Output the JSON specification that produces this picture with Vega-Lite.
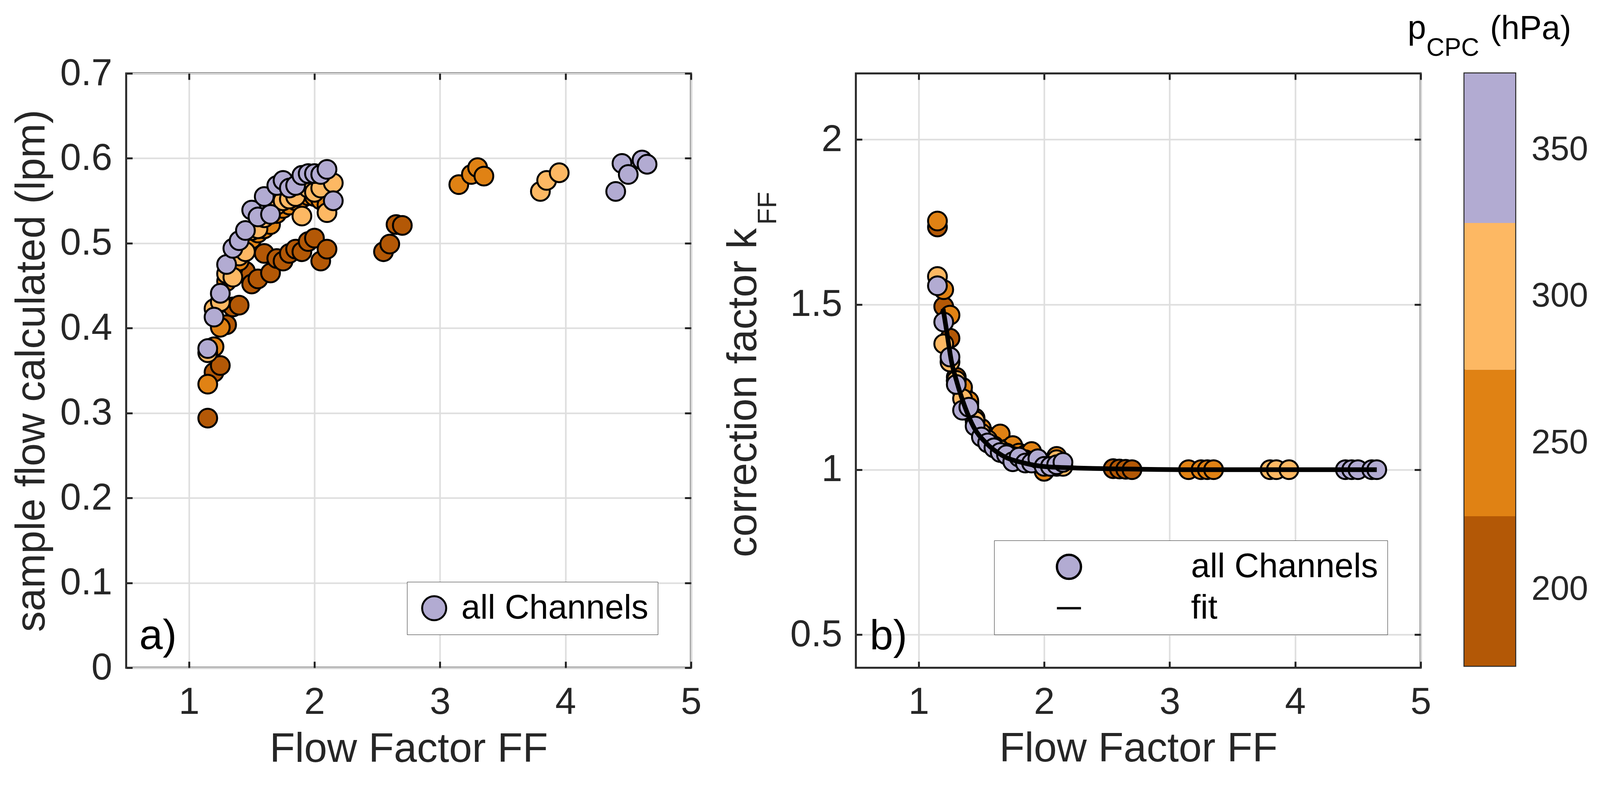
{
  "$schema": "https://vega.github.io/schema/vega-lite/v6.json",
  "background": "white",
  "autosize": {"type": "none"},
  "padding": {"left": 323, "top": 188, "right": 3760, "bottom": 1790},
  "config": {
    "font": "Liberation Sans",
    "view": {"stroke": "#262626", "strokeWidth": 5},
    "axis": {
      "domain": false,
      "labelFont": "Liberation Sans", "labelFontSize": 96, "labelColor": "#262626",
      "labelFlush": false, "labelOverlap": false, "labelLimit": 1000,
      "titleFont": "Liberation Sans", "titleFontSize": 106, "titleFontWeight": "normal",
      "titleColor": "#262626", "titleLimit": 3000,
      "gridColor": "#DEDEDE", "gridWidth": 4, "gridOpacity": 1,
      "tickColor": "#262626", "tickWidth": 5, "tickSize": -16
    },
    "legend": {"labelFont": "Liberation Sans", "labelFontSize": 87, "labelColor": "black", "labelLimit": 2000}
  },
  "datasets": {
    "pts": [
      {"p":200,"ff":1.15,"flow":0.294,"k":1.735},
      {"p":200,"ff":1.20,"flow":0.348,"k":1.494},
      {"p":200,"ff":1.25,"flow":0.356,"k":1.398},
      {"p":200,"ff":1.30,"flow":0.404,"k":1.28},
      {"p":200,"ff":1.35,"flow":0.425,"k":1.235},
      {"p":200,"ff":1.40,"flow":0.427,"k":1.20},
      {"p":200,"ff":1.45,"flow":0.467,"k":1.15},
      {"p":200,"ff":1.50,"flow":0.452,"k":1.12},
      {"p":200,"ff":1.55,"flow":0.458,"k":1.095},
      {"p":200,"ff":1.60,"flow":0.488,"k":1.075},
      {"p":200,"ff":1.65,"flow":0.465,"k":1.062},
      {"p":200,"ff":1.70,"flow":0.482,"k":1.05},
      {"p":200,"ff":1.75,"flow":0.479,"k":1.042},
      {"p":200,"ff":1.80,"flow":0.488,"k":1.035},
      {"p":200,"ff":1.85,"flow":0.493,"k":1.03},
      {"p":200,"ff":1.90,"flow":0.490,"k":1.025},
      {"p":200,"ff":1.95,"flow":0.502,"k":1.02},
      {"p":200,"ff":2.00,"flow":0.506,"k":1.012},
      {"p":200,"ff":2.05,"flow":0.479,"k":1.015},
      {"p":200,"ff":2.10,"flow":0.493,"k":1.01},
      {"p":200,"ff":2.55,"flow":0.490,"k":1.003},
      {"p":200,"ff":2.60,"flow":0.499,"k":1.002},
      {"p":200,"ff":2.65,"flow":0.522,"k":1.001},
      {"p":200,"ff":2.70,"flow":0.521,"k":1.0},
      {"p":250,"ff":1.15,"flow":0.334,"k":1.753},
      {"p":250,"ff":1.20,"flow":0.378,"k":1.545},
      {"p":250,"ff":1.25,"flow":0.401,"k":1.468},
      {"p":250,"ff":1.30,"flow":0.455,"k":1.269},
      {"p":250,"ff":1.35,"flow":0.470,"k":1.249},
      {"p":250,"ff":1.40,"flow":0.479,"k":1.208},
      {"p":250,"ff":1.45,"flow":0.500,"k":1.156},
      {"p":250,"ff":1.50,"flow":0.505,"k":1.125},
      {"p":250,"ff":1.55,"flow":0.512,"k":1.10},
      {"p":250,"ff":1.60,"flow":0.517,"k":1.088},
      {"p":250,"ff":1.65,"flow":0.522,"k":1.108},
      {"p":250,"ff":1.70,"flow":0.535,"k":1.062},
      {"p":250,"ff":1.75,"flow":0.541,"k":1.073},
      {"p":250,"ff":1.80,"flow":0.545,"k":1.05},
      {"p":250,"ff":1.85,"flow":0.550,"k":1.045},
      {"p":250,"ff":1.90,"flow":0.553,"k":1.055},
      {"p":250,"ff":1.95,"flow":0.556,"k":1.03},
      {"p":250,"ff":2.00,"flow":0.555,"k":0.995},
      {"p":250,"ff":2.05,"flow":0.551,"k":1.02},
      {"p":250,"ff":2.10,"flow":0.545,"k":1.04},
      {"p":250,"ff":3.15,"flow":0.569,"k":1.0},
      {"p":250,"ff":3.25,"flow":0.581,"k":1.0},
      {"p":250,"ff":3.30,"flow":0.589,"k":1.0},
      {"p":250,"ff":3.35,"flow":0.579,"k":1.0},
      {"p":300,"ff":1.15,"flow":0.371,"k":1.585},
      {"p":300,"ff":1.20,"flow":0.423,"k":1.381},
      {"p":300,"ff":1.25,"flow":0.431,"k":1.326},
      {"p":300,"ff":1.30,"flow":0.464,"k":1.27},
      {"p":300,"ff":1.35,"flow":0.460,"k":1.215},
      {"p":300,"ff":1.40,"flow":0.485,"k":1.178},
      {"p":300,"ff":1.45,"flow":0.490,"k":1.148},
      {"p":300,"ff":1.50,"flow":0.515,"k":1.11},
      {"p":300,"ff":1.55,"flow":0.517,"k":1.09},
      {"p":300,"ff":1.60,"flow":0.530,"k":1.072},
      {"p":300,"ff":1.65,"flow":0.535,"k":1.06},
      {"p":300,"ff":1.70,"flow":0.545,"k":1.05},
      {"p":300,"ff":1.75,"flow":0.550,"k":1.04},
      {"p":300,"ff":1.80,"flow":0.552,"k":1.035},
      {"p":300,"ff":1.85,"flow":0.555,"k":1.03},
      {"p":300,"ff":1.90,"flow":0.532,"k":1.025},
      {"p":300,"ff":1.95,"flow":0.565,"k":1.02},
      {"p":300,"ff":2.00,"flow":0.560,"k":1.015},
      {"p":300,"ff":2.05,"flow":0.565,"k":1.01},
      {"p":300,"ff":2.10,"flow":0.536,"k":1.03},
      {"p":300,"ff":2.15,"flow":0.571,"k":1.01},
      {"p":300,"ff":3.80,"flow":0.561,"k":1.0},
      {"p":300,"ff":3.85,"flow":0.574,"k":1.0},
      {"p":300,"ff":3.95,"flow":0.583,"k":1.0},
      {"p":350,"ff":1.15,"flow":0.376,"k":1.557},
      {"p":350,"ff":1.20,"flow":0.413,"k":1.447},
      {"p":350,"ff":1.25,"flow":0.441,"k":1.341},
      {"p":350,"ff":1.30,"flow":0.475,"k":1.258},
      {"p":350,"ff":1.35,"flow":0.494,"k":1.18},
      {"p":350,"ff":1.40,"flow":0.503,"k":1.189},
      {"p":350,"ff":1.45,"flow":0.515,"k":1.132},
      {"p":350,"ff":1.50,"flow":0.539,"k":1.099},
      {"p":350,"ff":1.55,"flow":0.531,"k":1.081},
      {"p":350,"ff":1.60,"flow":0.555,"k":1.066},
      {"p":350,"ff":1.65,"flow":0.534,"k":1.052},
      {"p":350,"ff":1.70,"flow":0.568,"k":1.045},
      {"p":350,"ff":1.75,"flow":0.574,"k":1.024},
      {"p":350,"ff":1.80,"flow":0.565,"k":1.038},
      {"p":350,"ff":1.85,"flow":0.568,"k":1.02},
      {"p":350,"ff":1.90,"flow":0.580,"k":1.02},
      {"p":350,"ff":1.95,"flow":0.582,"k":1.033},
      {"p":350,"ff":2.00,"flow":0.582,"k":1.01},
      {"p":350,"ff":2.05,"flow":0.581,"k":1.01},
      {"p":350,"ff":2.10,"flow":0.587,"k":1.015},
      {"p":350,"ff":2.15,"flow":0.550,"k":1.022},
      {"p":350,"ff":4.40,"flow":0.561,"k":1.0},
      {"p":350,"ff":4.45,"flow":0.594,"k":1.0},
      {"p":350,"ff":4.50,"flow":0.581,"k":1.0},
      {"p":350,"ff":4.61,"flow":0.598,"k":1.0},
      {"p":350,"ff":4.65,"flow":0.593,"k":1.0}
    ],
    "fit": [
      {"ff":1.195,"k":1.487},
      {"ff":1.225,"k":1.416},
      {"ff":1.26,"k":1.331},
      {"ff":1.305,"k":1.265},
      {"ff":1.37,"k":1.189},
      {"ff":1.44,"k":1.128},
      {"ff":1.54,"k":1.080},
      {"ff":1.67,"k":1.042},
      {"ff":1.83,"k":1.021},
      {"ff":2.01,"k":1.009},
      {"ff":2.26,"k":1.005},
      {"ff":2.63,"k":1.002},
      {"ff":3.08,"k":1.0},
      {"ff":3.8,"k":1.0},
      {"ff":4.65,"k":1.0}
    ],
    "cbar": [
      {"p":200,"lo":174,"hi":225},
      {"p":250,"lo":225,"hi":275},
      {"p":300,"lo":275,"hi":325},
      {"p":350,"lo":325,"hi":376}
    ]
  },
  "hconcat": [
    {
      "width": 1446, "height": 1522,
      "layer": [
        {
          "data": {"name": "pts"},
          "mark": {"type": "point", "filled": true, "opacity": 1, "stroke": "black", "strokeWidth": 5, "size": 2310},
          "encoding": {
            "x": {"field": "ff", "type": "quantitative", "scale": {"domain": [0.5, 5], "nice": false, "zero": false},
              "axis": {"orient": "bottom", "values": [1,2,3,4,5], "format": "d", "grid": true,
                "labelPadding": 133, "labelBaseline": "alphabetic",
                "title": "Flow Factor FF", "titleX": 723, "titleY": 240, "titleAlign": "center", "titleBaseline": "alphabetic", "titleAngle": 0}},
            "y": {"field": "flow", "type": "quantitative", "scale": {"domain": [0, 0.7], "nice": false, "zero": false},
              "axis": {"orient": "left", "values": [0,0.1,0.2,0.3,0.4,0.5,0.6,0.7], "grid": true,
                "labelExpr": "datum.value == 0 ? '0' : format(datum.value, '.1f')", "labelPadding": 52,
                "title": "sample flow calculated (lpm)", "titleX": -210, "titleY": 761, "titleAngle": 270, "titleAlign": "center", "titleBaseline": "alphabetic"}},
            "color": {"field": "p", "type": "ordinal", "scale": {"domain": [200,250,300,350], "range": ["#B35806","#E08214","#FDB863","#B2ABD2"]}, "legend": null},
            "shape": {"datum": "all Channels", "type": "nominal", "scale": {"domain": ["all Channels"], "range": ["circle"]},
              "legend": {"title": null, "orient": "bottom-right", "offset": 85, "padding": 24,
                "strokeColor": "#262626", "fillColor": "white",
                "labelFontSize": 87, "labelColor": "black", "labelOffset": 26, "symbolOffset": 2,
                "symbolSize": 3795, "symbolFillColor": "#B2ABD2", "symbolStrokeColor": "black", "symbolStrokeWidth": 5, "symbolOpacity": 1}}
          }
        },
        {
          "data": {"name": "pts"},
          "mark": {"type": "point", "opacity": 0},
          "encoding": {
            "x": {"field": "ff", "type": "quantitative", "scale": {"domain": [0.5, 5], "nice": false, "zero": false},
              "axis": {"orient": "top", "values": [1,2,3,4,5], "labels": false, "grid": false,
                "title": "a)", "titleX": 33, "titleY": 1473, "titleAlign": "left", "titleBaseline": "alphabetic", "titleAngle": 0, "titleFontSize": 108, "titleColor": "black"}},
            "y": {"field": "flow", "type": "quantitative", "scale": {"domain": [0, 0.7], "nice": false, "zero": false},
              "axis": {"orient": "right", "values": [0,0.1,0.2,0.3,0.4,0.5,0.6,0.7], "labels": false, "grid": false, "title": null}}
          }
        }
      ],
      "resolve": {"axis": {"x": "independent", "y": "independent"}}
    },
    {
      "hconcat": [
        {
          "width": 1446, "height": 1522,
          "layer": [
            {
              "data": {"name": "pts"},
              "mark": {"type": "point", "filled": true, "opacity": 1, "stroke": "black", "strokeWidth": 5, "size": 2310},
              "encoding": {
                "x": {"field": "ff", "type": "quantitative", "scale": {"domain": [0.5, 5], "nice": false, "zero": false},
                  "axis": {"orient": "bottom", "values": [1,2,3,4,5], "format": "d", "grid": true,
                    "labelPadding": 133, "labelBaseline": "alphabetic",
                    "title": "Flow Factor FF", "titleX": 723, "titleY": 239, "titleAlign": "center", "titleBaseline": "alphabetic", "titleAngle": 0}},
                "y": {"field": "k", "type": "quantitative", "scale": {"domain": [0.4, 2.2], "nice": false, "zero": false},
                  "axis": {"orient": "left", "values": [0.5,1,1.5,2], "grid": true,
                    "labelExpr": "format(datum.value, '~g')", "labelPadding": 51,
                    "title": "correction factor k", "titleX": -256, "titleY": 396, "titleAngle": 270, "titleAlign": "right", "titleBaseline": "alphabetic"}},
                "color": {"field": "p", "type": "ordinal", "scale": {"domain": [200,250,300,350], "range": ["#B35806","#E08214","#FDB863","#B2ABD2"]}, "legend": null},
                "shape": {"datum": "all Channels", "type": "nominal", "scale": {"domain": ["all Channels", "fit"], "range": ["circle", "stroke"]},
                  "legend": {"title": null, "orient": "bottom-right", "offset": 85, "padding": 24, "rowPadding": 18,
                    "strokeColor": "#262626", "fillColor": "white",
                    "labelFontSize": 87, "labelColor": "black", "labelOffset": 269, "symbolOffset": 124,
                    "symbolSize": 3795, "symbolFillColor": "#B2ABD2", "symbolStrokeColor": "black", "symbolStrokeWidth": 6, "symbolOpacity": 1}}
              }
            },
            {
              "data": {"name": "fit"},
              "mark": {"type": "line", "color": "black", "strokeWidth": 12, "interpolate": "monotone"},
              "encoding": {
                "x": {"field": "ff", "type": "quantitative", "scale": {"domain": [0.5, 5], "nice": false, "zero": false}, "axis": null},
                "y": {"field": "k", "type": "quantitative", "scale": {"domain": [0.4, 2.2], "nice": false, "zero": false}, "axis": null}
              }
            },
            {
              "data": {"name": "pts"},
              "mark": {"type": "point", "opacity": 0},
              "encoding": {
                "x": {"field": "ff", "type": "quantitative", "scale": {"domain": [0.5, 5], "nice": false, "zero": false},
                  "axis": {"orient": "top", "values": [1,2,3,4,5], "labels": false, "grid": false,
                    "title": "b)", "titleX": 35, "titleY": 1474, "titleAlign": "left", "titleBaseline": "alphabetic", "titleAngle": 0, "titleFontSize": 108, "titleColor": "black"}},
                "y": {"field": "k", "type": "quantitative", "scale": {"domain": [0.4, 2.2], "nice": false, "zero": false},
                  "axis": {"orient": "right", "values": [0.5,1,1.5,2], "labels": false, "grid": false,
                    "title": "FF", "titleX": -1651, "titleY": 387, "titleAngle": 270, "titleAlign": "left", "titleBaseline": "alphabetic", "titleFontSize": 69}}
              }
            }
          ],
          "resolve": {"axis": {"x": "independent", "y": "independent"}}
        },
        {
          "width": 130, "height": 1517,
          "data": {"name": "cbar"},
          "layer": [
            {
              "mark": {"type": "rect"},
              "encoding": {
                "x": {"datum": 0, "type": "quantitative", "scale": {"domain": [0, 1], "nice": false, "zero": false},
                  "axis": {"orient": "top", "labels": false, "ticks": false, "grid": false,
                    "title": "p", "titleX": -146, "titleY": -90, "titleAngle": 0, "titleAlign": "left", "titleBaseline": "alphabetic", "titleFontSize": 85, "titleColor": "black"}},
                "x2": {"datum": 1},
                "y": {"field": "lo", "type": "quantitative", "scale": {"domain": [174, 376], "nice": false, "zero": false},
                  "axis": {"orient": "right", "values": [200,250,300,350], "grid": false, "labelFontSize": 87,
                    "tickSize": -14, "tickWidth": 3, "labelPadding": 55,
                    "title": "(hPa)", "titleX": -65, "titleY": -89, "titleAngle": 0, "titleAlign": "left", "titleBaseline": "alphabetic", "titleFontSize": 85, "titleColor": "black"}},
                "y2": {"field": "hi"},
                "color": {"field": "p", "type": "ordinal", "scale": {"domain": [200,250,300,350], "range": ["#B35806","#E08214","#FDB863","#B2ABD2"]}, "legend": null}
              }
            },
            {
              "mark": {"type": "rect", "opacity": 0},
              "encoding": {
                "y": {"field": "lo", "type": "quantitative", "scale": {"domain": [174, 376], "nice": false, "zero": false},
                  "axis": {"orient": "left", "labels": false, "ticks": false, "grid": false,
                    "title": "CPC", "titleX": -98, "titleY": -46, "titleAngle": 0, "titleAlign": "left", "titleBaseline": "alphabetic", "titleFontSize": 64, "titleColor": "black"}},
                "y2": {"field": "hi"}
              }
            }
          ],
          "resolve": {"axis": {"x": "independent", "y": "independent"}}
        }
      ],
      "spacing": 112,
      "bounds": "flush",
      "resolve": {"scale": {"shape": "independent"}, "legend": {"shape": "independent"}}
    }
  ],
  "spacing": 422,
  "bounds": "flush",
  "resolve": {"scale": {"shape": "independent"}, "legend": {"shape": "independent"}}
}
